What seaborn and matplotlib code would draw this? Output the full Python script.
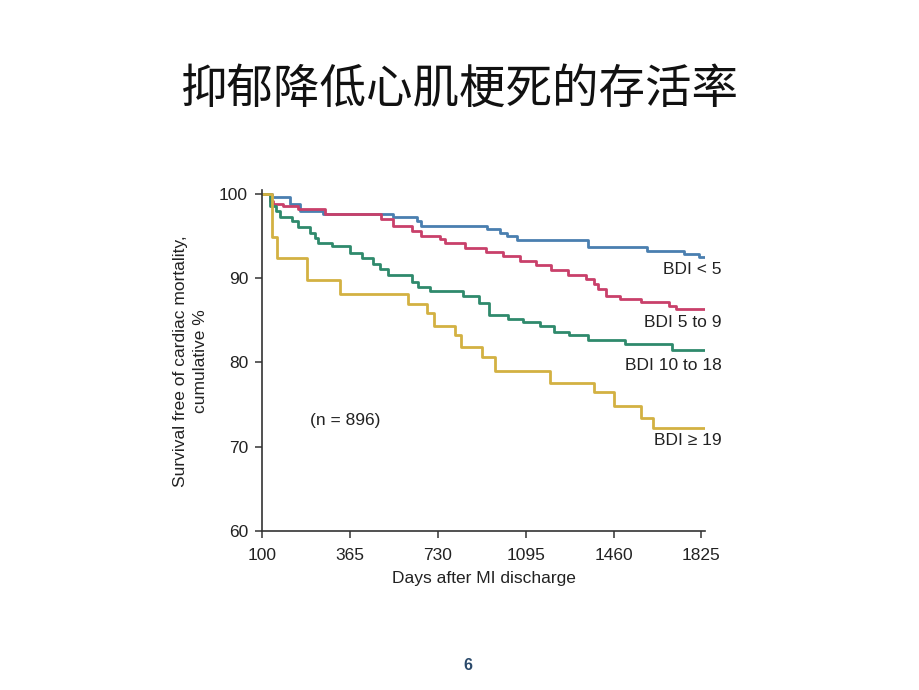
import matplotlib
matplotlib.use("Agg")
import matplotlib.pyplot as plt
import seaborn as sns
import pandas as pd

# ---- data (x = position in days from left edge of axis; tick "100" at 0) ----
blue_x = [0, 41, 116, 158, 253, 543, 643, 660, 933, 987, 1016, 1058, 1352, 1601, 1754, 1817, 1840]
blue_y = [100, 99.6, 98.8, 98.0, 97.6, 97.3, 96.8, 96.2, 95.8, 95.4, 95.0, 94.5, 93.7, 93.2, 92.85, 92.5, 92.5]

red_x = [0, 33, 46, 87, 149, 261, 496, 543, 621, 662, 738, 759, 842, 932, 1000, 1070, 1139, 1202,
         1269, 1347, 1381, 1394, 1430, 1485, 1575, 1692, 1720, 1840]
red_y = [100, 99.2, 98.8, 98.5, 98.2, 97.6, 97.0, 96.2, 95.6, 95.0, 94.6, 94.2, 93.6, 93.1, 92.6, 92.05, 91.5, 90.9,
         90.35, 89.9, 89.3, 88.7, 87.9, 87.5, 87.2, 86.7, 86.3, 86.3]

green_x = [0, 33, 57, 75, 123, 149, 199, 220, 232, 290, 365, 414, 460, 489, 523, 621, 647, 697, 834, 900,
           941, 1020, 1083, 1153, 1211, 1277, 1352, 1506, 1705, 1840]
green_y = [100, 98.6, 98.0, 97.2, 96.8, 96.0, 95.4, 94.7, 94.2, 93.8, 93.0, 92.4, 91.7, 91.1, 90.4, 89.5, 89.0, 88.5, 87.9, 87.0,
           85.6, 85.2, 84.8, 84.3, 83.6, 83.2, 82.6, 82.2, 81.5, 81.5]

yellow_x = [0, 40, 62, 185, 324, 606, 684, 715, 800, 828, 915, 966, 1197, 1379, 1460, 1576, 1622, 1840]
yellow_y = [100, 94.9, 92.35, 89.75, 88.15, 86.95, 85.8, 84.3, 83.2, 81.8, 80.6, 79.0, 77.6, 76.5, 74.8, 73.4, 72.2, 72.2]

group_names = ["BDI < 5", "BDI 5 to 9", "BDI 10 to 18", "BDI ≥ 19"]
group_colors = ["#4a7fb0", "#c9406a", "#2f8a6c", "#d3b142"]
tick_pos = [0, 365, 730, 1095, 1460, 1825]
tick_labels = ["100", "365", "730", "1095", "1460", "1825"]
y_ticks = [60, 70, 80, 90, 100]

series = [(blue_x, blue_y), (red_x, red_y), (green_x, green_y), (yellow_x, yellow_y)]
frames = []
for name, (xs, ys) in zip(group_names, series):
    frames.append(pd.DataFrame({"day": xs, "surv": ys, "group": name}))
df = pd.concat(frames, ignore_index=True)

sns.set_theme(style="white")
plt.rcParams["font.family"] = ["Liberation Sans", "DejaVu Sans"]

fig = plt.figure(figsize=(9.2, 6.9), dpi=100)
ax = fig.add_axes([262 / 920, 1 - 531 / 690, 443 / 920, 340.6 / 690])

sns.lineplot(data=df, x="day", y="surv", hue="group", hue_order=group_names,
             palette=group_colors, drawstyle="steps-post", estimator=None,
             sort=False, linewidth=2.0, legend=False, ax=ax)

ax.set_xlim(0, 1840)
ax.set_ylim(60, 100.4)
ax.set_xticks(tick_pos)
ax.set_xticklabels(tick_labels)
ax.set_yticks(y_ticks)
for s in ["top", "right"]:
    ax.spines[s].set_visible(False)
for s in ["left", "bottom"]:
    ax.spines[s].set_color("#333333")
    ax.spines[s].set_linewidth(1.2)
ax.tick_params(axis="x", pad=7)
ax.tick_params(axis="y", pad=5)
ax.tick_params(axis="both", direction="out", length=5, width=1.1, color="#333333",
               labelsize=12.5, labelcolor="#222222", bottom=True, left=True)

ax.set_xlabel("Days after MI discharge", fontsize=12.5, color="#222222", labelpad=6)
ax.set_ylabel("Survival free of cardiac mortality,\ncumulative %", fontsize=12.5,
              color="#222222", labelpad=8, linespacing=1.4)

# curve labels (right aligned, outside the right edge a little)
label_y = [91.0, 84.7, 79.6, 70.7]
for name, yv in zip(group_names, label_y):
    ax.text(1908, yv, name, ha="right", va="center", fontsize=12.5, color="#222222",
            clip_on=False)
ax.text(199, 73.1, "(n = 896)", ha="left", va="center", fontsize=12.5, color="#222222")

fig.text(0.5, 1 - 90 / 690, "抑郁降低心肌梗死的存活率", ha="center", va="center",
         fontsize=33.5, color="#111111", family=["Noto Sans CJK SC", "DejaVu Sans"])
fig.text(468 / 920, 1 - 665 / 690, "6", ha="center", va="center", fontsize=11.5,
         fontweight="bold", color="#2b4a6b")

fig.savefig("out.png", dpi=100, facecolor="white")
